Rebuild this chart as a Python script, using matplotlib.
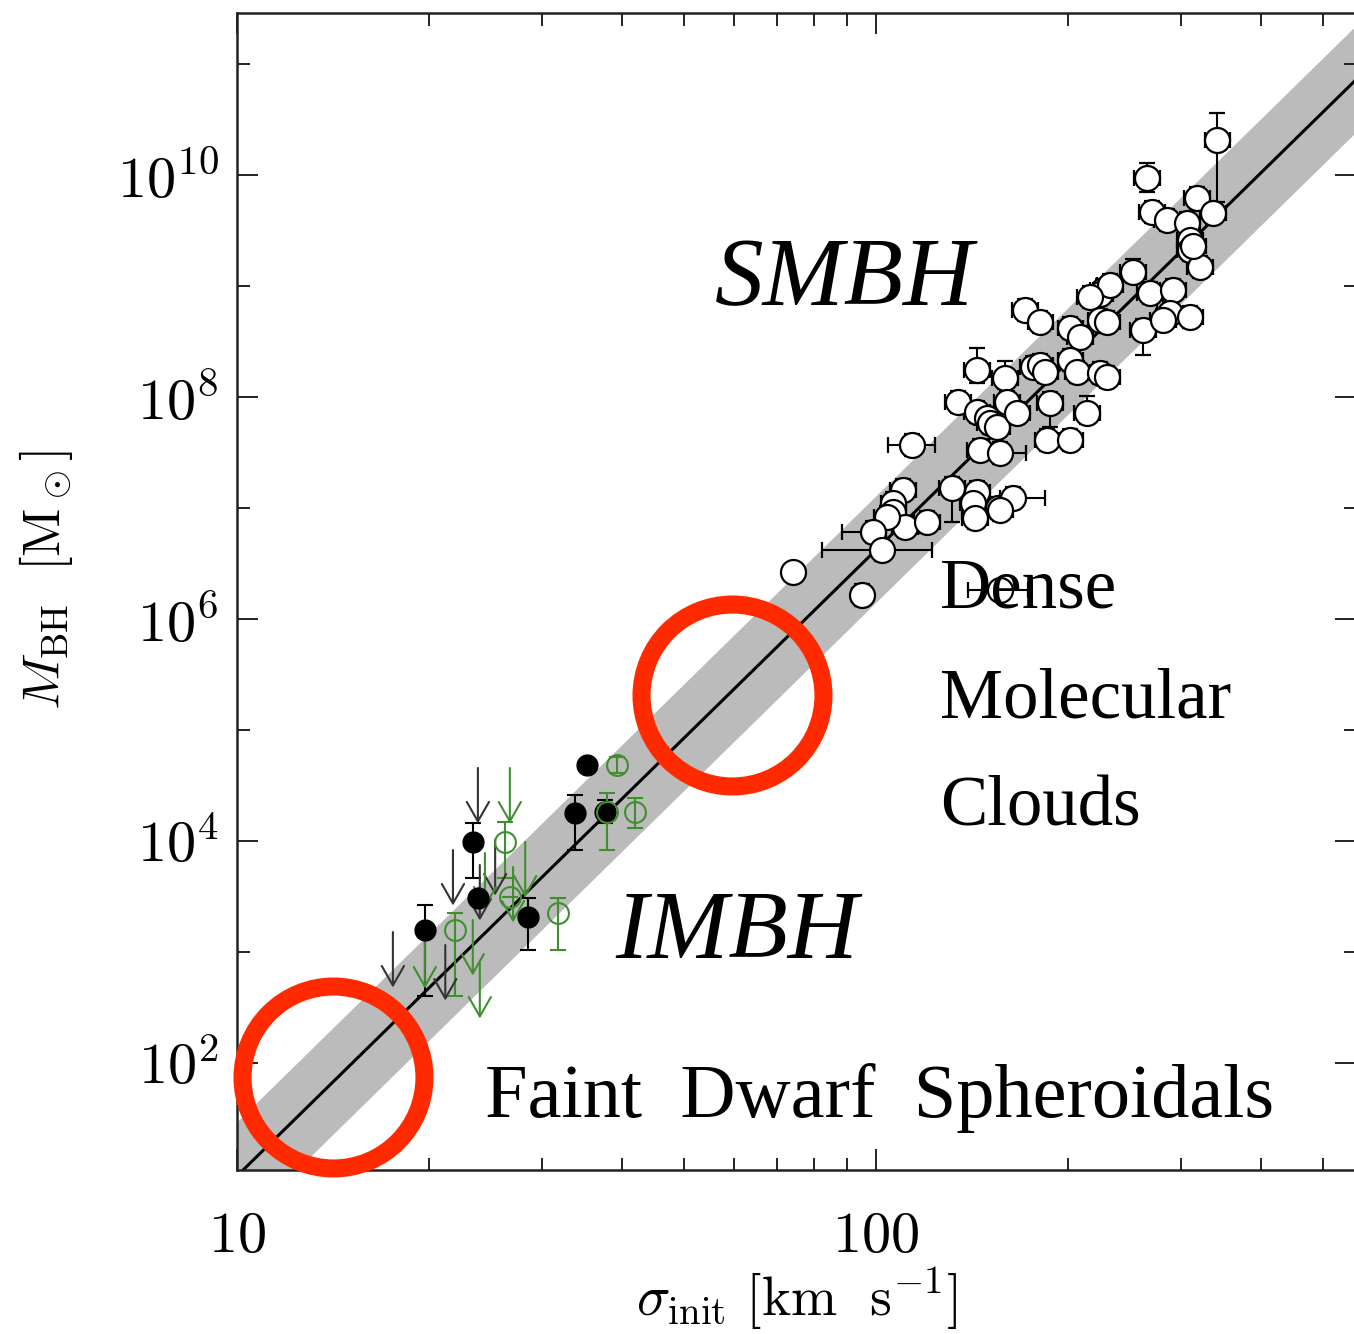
import numpy as np
import matplotlib
matplotlib.use('Agg')
import matplotlib.pyplot as plt
from matplotlib.ticker import FixedLocator, FuncFormatter, NullFormatter

plt.rcParams['mathtext.fontset'] = 'cm'
plt.rcParams['font.family'] = ['Liberation Serif', 'DejaVu Serif']

# M-sigma relation: log M = a + b log(sigma / 200 km/s), band = +-scatter (dex)
fit_a = 8.32
fit_b = 5.64
fit_scatter = 0.48

# galaxies with dynamical SMBH masses (log sigma, log M, errors in dex)
smbh_logsig = [2.534, 2.424, 2.432, 2.455, 2.502, 2.527, 2.487, 2.491, 2.491, 2.402,
               2.429, 2.465, 2.507, 2.496, 2.355, 2.350, 2.366, 2.335, 2.418, 2.460,
               2.491, 2.449, 2.233, 2.257, 2.304, 2.319, 2.351, 2.362, 2.246, 2.304,
               2.315, 2.351, 2.362, 2.272, 2.330, 2.207, 2.158, 2.202, 2.257, 2.264,
               2.128, 2.158, 2.174, 2.178, 2.189, 2.205, 2.221, 2.268, 2.304, 2.056,
               2.163, 2.194, 2.119, 2.158, 2.152, 2.155, 2.191, 2.214, 2.194, 2.042,
               2.027, 2.027, 2.045, 2.080, 2.017, 1.995, 2.009, 1.870, 1.978, 2.194]
smbh_logm = [10.315, 9.973, 9.667, 9.595, 9.793, 9.658, 9.568, 9.414, 9.324, 9.126,
             8.937, 8.964, 9.171, 9.360, 8.964, 8.930, 9.009, 8.901, 8.604, 8.757,
             8.721, 8.694, 8.784, 8.676, 8.622, 8.541, 8.694, 8.676, 8.270, 8.333,
             8.225, 8.216, 8.180, 7.946, 7.856, 7.901, 8.243, 8.171, 8.288, 8.225,
             7.955, 7.865, 7.811, 7.766, 7.730, 7.955, 7.856, 7.613, 7.613, 7.568,
             7.523, 7.495, 7.180, 7.144, 7.045, 6.910, 7.000, 7.090, 6.982, 7.162,
             7.045, 6.964, 6.829, 6.874, 6.919, 6.784, 6.622, 6.423, 6.216, 6.261]
smbh_xerr_lo = [0.02] * 49 + [0.037] + [0.02] * 15 + [0.048, 0.094, 0.0, 0.015, 0.05]
smbh_xerr_hi = ([0.02] * 49 + [0.036, 0.02, 0.04] + [0.02] * 5 + [0.05]
                + [0.02] * 8 + [0.079, 0.0, 0.015, 0.044])
smbh_yerr_lo = [0.56, 0.13, 0.10, 0.10, 0.10, 0.10, 0.10, 0.10, 0.10, 0.10,
                0.10, 0.10, 0.10, 0.10, 0.10, 0.10, 0.10, 0.10, 0.23, 0.10,
                0.10, 0.10, 0.10, 0.10, 0.10, 0.10, 0.10, 0.10, 0.10, 0.10,
                0.10, 0.10, 0.10, 0.22, 0.10, 0.10, 0.12, 0.10, 0.10, 0.10,
                0.10, 0.10, 0.10, 0.10, 0.10, 0.10, 0.10, 0.10, 0.10, 0.10,
                0.10, 0.10, 0.31, 0.10, 0.10, 0.10, 0.10, 0.10, 0.10, 0.10,
                0.10, 0.10, 0.10, 0.10, 0.10, 0.10, 0.10, 0.00, 0.10, 0.00]
smbh_yerr_hi = [0.24, 0.13, 0.10, 0.10, 0.10, 0.10, 0.10, 0.10, 0.10, 0.12,
                0.10, 0.10, 0.10, 0.10, 0.10, 0.10, 0.10, 0.10, 0.10, 0.10,
                0.10, 0.10, 0.10, 0.10, 0.10, 0.10, 0.10, 0.10, 0.10, 0.10,
                0.10, 0.10, 0.10, 0.10, 0.15, 0.10, 0.20, 0.15, 0.10, 0.10,
                0.10, 0.10, 0.10, 0.10, 0.10, 0.10, 0.10, 0.10, 0.10, 0.10,
                0.10, 0.10, 0.10, 0.10, 0.10, 0.10, 0.10, 0.10, 0.10, 0.10,
                0.10, 0.10, 0.10, 0.10, 0.10, 0.10, 0.10, 0.00, 0.10, 0.00]

# globular clusters with IMBH claims
gc_black_logsig = [1.548, 1.529, 1.576, 1.369, 1.377, 1.455, 1.294]
gc_black_logm = [4.685, 4.252, 4.261, 3.991, 3.486, 3.315, 3.198]
gc_black_yerr_lo = [0.0, 0.33, 0.10, 0.32, 0.0, 0.30, 0.59]
gc_black_yerr_hi = [0.0, 0.16, 0.11, 0.17, 0.0, 0.17, 0.23]

gc_green_logsig = [1.595, 1.579, 1.623, 1.419, 1.427, 1.502, 1.341]
gc_green_logm = [4.685, 4.261, 4.261, 3.991, 3.495, 3.351, 3.198]
gc_green_yerr_lo = [0.07, 0.34, 0.14, 0.32, 0.0, 0.33, 0.59]
gc_green_yerr_hi = [0.07, 0.17, 0.13, 0.18, 0.0, 0.14, 0.15]

# upper limits
lim_black_logsig = [1.377, 1.338, 1.380, 1.404, 1.244, 1.326]
lim_black_logm = [4.658, 3.919, 3.784, 4.009, 3.180, 3.063]
lim_green_logsig = [1.427, 1.388, 1.451, 1.432, 1.294, 1.369, 1.380]
lim_green_logm = [4.658, 3.892, 3.991, 3.766, 3.171, 3.288, 2.901]
lim_length = 0.5

# highlighted regimes (log sigma, log M)
ring_logsig = [1.775, 1.150]
ring_logm = [5.315, 1.874]

green = '#3f8f2f'
red = '#ff2a00'


def to_lin(logv, lo, hi):
    logv, lo, hi = np.asarray(logv), np.asarray(lo), np.asarray(hi)
    v = 10 ** logv
    return v, [v - 10 ** (logv - lo), 10 ** (logv + hi) - v]


fig = plt.figure(figsize=(13.54, 13.34), dpi=100)
ax = fig.add_axes([0.175, 0.1229, 0.8265, 0.8674])
ax.set_xscale('log')
ax.set_yscale('log')
ax.set_xlim(10, 10 ** 2.751)
ax.set_ylim(10 ** 1.036, 10 ** 11.459)

sig = np.logspace(0.9, 3.0, 300)
logm_fit = fit_a + fit_b * np.log10(sig / 200.0)
ax.fill_between(sig, 10 ** (logm_fit - fit_scatter), 10 ** (logm_fit + fit_scatter),
                color='#bbbbbb', lw=0, zorder=1)
ax.plot(sig, 10 ** logm_fit, color='k', lw=2.2, zorder=2)

x, xerr = to_lin(smbh_logsig, smbh_xerr_lo, smbh_xerr_hi)
y, yerr = to_lin(smbh_logm, smbh_yerr_lo, smbh_yerr_hi)
ax.errorbar(x, y, xerr=xerr, yerr=yerr, fmt='o', ms=18, mfc='white', mec='k', mew=1.6,
            ecolor='k', elinewidth=1.5, capsize=5.5, capthick=1.5, zorder=3)

x = 10 ** np.asarray(gc_black_logsig)
y, yerr = to_lin(gc_black_logm, gc_black_yerr_lo, gc_black_yerr_hi)
ax.errorbar(x, y, yerr=yerr, fmt='o', ms=15, mfc='k', mec='k', ecolor='k',
            elinewidth=1.5, capsize=5.5, capthick=1.5, zorder=3)

x = 10 ** np.asarray(gc_green_logsig)
y, yerr = to_lin(gc_green_logm, gc_green_yerr_lo, gc_green_yerr_hi)
ax.errorbar(x, y, yerr=yerr, fmt='o', ms=15, mfc='none', mec=green, mew=1.5, ecolor=green,
            elinewidth=1.5, capsize=5.5, capthick=1.5, zorder=3)

for logs, logm, col in ([(s, m, '#333333') for s, m in zip(lim_black_logsig, lim_black_logm)]
                        + [(s, m, green) for s, m in zip(lim_green_logsig, lim_green_logm)]):
    ax.annotate('', xy=(10 ** logs, 10 ** (logm - lim_length)), xytext=(10 ** logs, 10 ** logm),
                arrowprops=dict(arrowstyle='->,head_length=0.7,head_width=0.4', color=col,
                                lw=1.5, mutation_scale=20, shrinkA=0, shrinkB=0), zorder=3)

for s, m in zip(ring_logsig, ring_logm):
    ax.plot([10 ** s], [10 ** m], 'o', ms=131, mfc='none', mec=red, mew=13,
            clip_on=False, zorder=6)

ax.xaxis.set_major_locator(FixedLocator([10, 100]))
ax.xaxis.set_minor_locator(FixedLocator([20, 30, 40, 50, 60, 70, 80, 90, 200, 300, 400, 500]))
ax.xaxis.set_major_formatter(FuncFormatter(lambda v, p: r'$%d$' % round(v)))
ax.xaxis.set_minor_formatter(NullFormatter())
ax.yaxis.set_major_locator(FixedLocator([1e2, 1e4, 1e6, 1e8, 1e10]))
ax.yaxis.set_minor_locator(FixedLocator([1e3, 1e5, 1e7, 1e9, 1e11]))
ax.yaxis.set_major_formatter(FuncFormatter(lambda v, p: r'$10^{%d}$' % round(np.log10(v))))
ax.yaxis.set_minor_formatter(NullFormatter())

ax.tick_params(which='both', direction='in', top=True, right=True, width=1.4,
               labelsize=42, color='#222222')
ax.tick_params(which='major', length=15)
ax.tick_params(which='minor', length=9)
ax.tick_params(axis='x', which='major', pad=30)
ax.tick_params(axis='y', which='major', pad=13)
for sp in ax.spines.values():
    sp.set_linewidth(1.8)
    sp.set_color('#222222')

ax.set_xlabel(r'$\sigma_{\rm init}\ [{\rm km\ \ s^{-1}}]$', fontsize=40)
ax.set_ylabel(r'$M_{\rm BH}\ \ [{\rm M}_\odot]$', fontsize=38)
ax.xaxis.set_label_coords(0.5, -0.082)
ax.yaxis.set_label_coords(-0.145, 0.51)

W, H = 1354.0, 1334.0
fig.text(715 / W, 1 - 305 / H, 'SMBH', fontsize=70, style='italic', va='baseline', zorder=7)
fig.text(615 / W, 1 - 958 / H, 'IMBH', fontsize=70, style='italic', va='baseline', zorder=7)
fig.text(940 / W, 1 - 607 / H, 'Dense', fontsize=51, va='baseline', zorder=7)
fig.text(940 / W, 1 - 717 / H, 'Molecular', fontsize=51, va='baseline', zorder=7)
fig.text(940 / W, 1 - 826 / H, 'Clouds', fontsize=51, va='baseline', zorder=7)
fig.text(485 / W, 1 - 1117 / H, 'Faint  Dwarf  Spheroidals', fontsize=55, va='baseline',
         zorder=7)

fig.savefig('out.png', dpi=100)
